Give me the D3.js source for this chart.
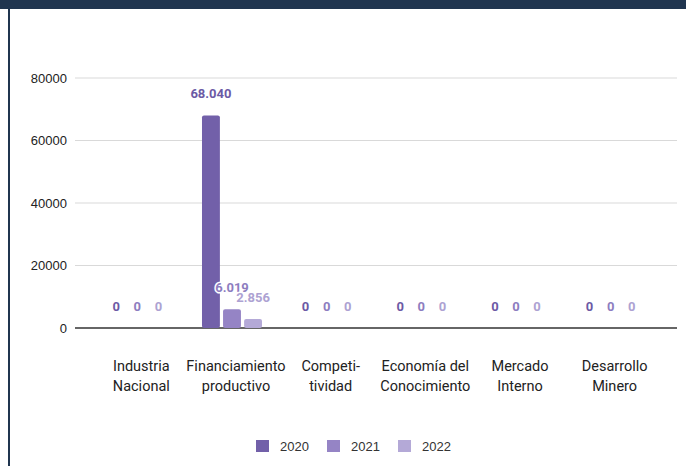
<!DOCTYPE html>
<html>
<head>
<meta charset="utf-8">
<script src="https://cdn.jsdelivr.net/npm/d3@7"></script>
<style>
  html, body { margin: 0; padding: 0; background: #fff; }
  svg { display: block; }
</style>
</head>
<body>
<div class="svg-container"></div>
<script>
// data
const categories = ['Industria Nacional', 'Financiamiento productivo', 'Competitividad',
  'Economía del Conocimiento', 'Mercado Interno', 'Desarrollo Minero'];
const categoryLines = [
  ['Industria', 'Nacional'],
  ['Financiamiento', 'productivo'],
  ['Competi-', 'tividad'],
  ['Economía del', 'Conocimiento'],
  ['Mercado', 'Interno'],
  ['Desarrollo', 'Minero']
];
const years = ['2020', '2021', '2022'];
const values2020 = [0, 68040, 0, 0, 0, 0];
const values2021 = [0, 6019, 0, 0, 0, 0];
const values2022 = [0, 2856, 0, 0, 0, 0];
const yTicks = [0, 20000, 40000, 60000, 80000];

const seriesValues = [values2020, values2021, values2022];
const barColors = ['#7260a9', '#9584c5', '#b4a9d7'];
const labelColors = ['#6c5aa5', '#8d7dc0', '#ada2d2'];

// dimensions
const width = 686;
const height = 466;

const svg = d3.select('.svg-container')
  .append('svg')
  .attr('width', width)
  .attr('height', height);

// frame
svg.append('rect').attr('x', 0).attr('y', 0).attr('width', width).attr('height', 9).attr('fill', '#20354f');
svg.append('rect').attr('x', 8).attr('y', 0).attr('width', 2).attr('height', height).attr('fill', '#20354f');

const y = d3.scaleLinear().domain([0, 80000]).range([328, 78]);

const x0 = d3.scaleBand()
  .domain(categories)
  .range([90, 658])
  .paddingInner(0.366)
  .paddingOuter(0.183);

const x1 = d3.scaleBand()
  .domain(years)
  .range([0, x0.bandwidth()])
  .paddingInner(0.15);

// grid lines
svg.append('g')
  .selectAll('line')
  .data(yTicks)
  .enter()
  .append('line')
  .attr('x1', 75)
  .attr('x2', 677)
  .attr('y1', d => y(d))
  .attr('y2', d => y(d))
  .attr('stroke', d => d === 0 ? '#333' : '#d9d9d9')
  .attr('stroke-width', d => d === 0 ? 1.3 : 1);

// y axis labels
svg.append('g')
  .selectAll('text')
  .data(yTicks)
  .enter()
  .append('text')
  .attr('x', 67)
  .attr('y', d => y(d))
  .attr('dy', '0.35em')
  .attr('text-anchor', 'end')
  .attr('font-family', '"Liberation Sans", Arial, sans-serif')
  .attr('font-size', 13)
  .attr('fill', '#222')
  .text(d => d);

const rows = [];
seriesValues.forEach((vals, si) => {
  vals.forEach((v, ci) => {
    rows.push({ year: years[si], si: si, cat: categories[ci], value: v });
  });
});

// bars
svg.append('g')
  .selectAll('rect')
  .data(rows.filter(d => d.value > 0))
  .enter()
  .append('rect')
  .attr('x', d => x0(d.cat) + x1(d.year))
  .attr('y', d => y(d.value))
  .attr('width', x1.bandwidth())
  .attr('height', d => y(0) - y(d.value))
  .attr('rx', 2)
  .attr('fill', d => barColors[d.si]);

// value labels
const fmt = d3.formatLocale({ decimal: ',', thousands: '.', grouping: [3], currency: ['$', ''] }).format(',d');

svg.append('g')
  .selectAll('text')
  .data(rows)
  .enter()
  .append('text')
  .attr('x', d => x0(d.cat) + x1(d.year) + x1.bandwidth() / 2)
  .attr('y', d => y(d.value) - 17)
  .attr('text-anchor', 'middle')
  .attr('font-family', 'Roboto, "Noto Sans", sans-serif')
  .attr('font-weight', 'bold')
  .attr('font-size', 13)
  .attr('fill', d => labelColors[d.si])
  .attr('stroke', '#fff')
  .attr('stroke-width', 3)
  .attr('stroke-linejoin', 'round')
  .attr('paint-order', 'stroke')
  .text(d => fmt(d.value));

// category labels
const catText = svg.append('g')
  .selectAll('text')
  .data(categories)
  .enter()
  .append('text')
  .attr('x', d => x0(d) + x0.bandwidth() / 2 + 4)
  .attr('y', 371)
  .attr('text-anchor', 'middle')
  .attr('font-family', 'Roboto, "Noto Sans", sans-serif')
  .attr('font-size', 14.5)
  .attr('fill', '#222');

catText.selectAll('tspan')
  .data((d, i) => categoryLines[i])
  .enter()
  .append('tspan')
  .attr('x', function() { return d3.select(this.parentNode).attr('x'); })
  .attr('dy', (d, i) => i === 0 ? 0 : 19.5)
  .text(d => d);

// legend
const legend = svg.append('g')
  .selectAll('g')
  .data(years)
  .enter()
  .append('g')
  .attr('transform', (d, i) => `translate(${256 + i * 71},440)`);

legend.append('rect')
  .attr('width', 13)
  .attr('height', 12)
  .attr('fill', (d, i) => barColors[i]);

legend.append('text')
  .attr('x', 24)
  .attr('y', 11)
  .attr('font-family', '"Liberation Sans", Arial, sans-serif')
  .attr('font-size', 13)
  .attr('fill', '#333')
  .text(d => d);
</script>
</body>
</html>
